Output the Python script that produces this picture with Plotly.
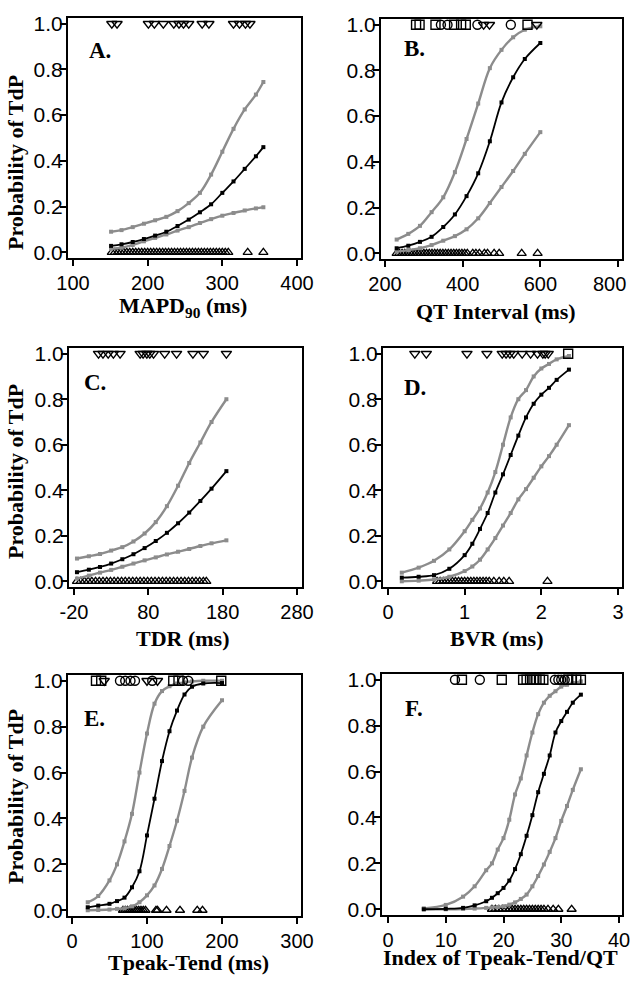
import plotly.graph_objects as go

W, H = 633, 998

# ---------------- DATA ----------------
# Panel A: MAPD90 (ms)
A_grid = [151, 165, 180, 195, 210, 225, 240, 255, 270, 285, 300, 315, 330, 345, 355]
A_est = [0.028, 0.035, 0.045, 0.058, 0.073, 0.09, 0.115, 0.143, 0.175, 0.21, 0.26, 0.31, 0.365, 0.42, 0.46]
A_upper = [0.09, 0.097, 0.11, 0.125, 0.14, 0.155, 0.18, 0.215, 0.26, 0.34, 0.44, 0.54, 0.625, 0.69, 0.745]
A_lower = [0.015, 0.02, 0.032, 0.048, 0.063, 0.078, 0.095, 0.11, 0.128, 0.145, 0.16, 0.172, 0.183, 0.192, 0.197]
A_tdp = [152, 159, 201, 209, 221, 235, 242, 248, 255, 273, 282, 315, 323, 331, 337]
A_notdp = [152, 156, 160, 164, 168, 172, 176, 180, 184, 188, 192, 196, 200, 204, 208, 212, 216, 220, 224,
           228, 232, 236, 240, 244, 248, 252, 256, 260, 264, 268, 272, 276, 280, 284, 288, 292, 296, 300,
           304, 308, 334, 355]

# Panel B: QT interval (ms)
B_grid = [230, 260, 290, 320, 350, 380, 410, 440, 470, 500, 530, 560, 600]
B_est = [0.022, 0.033, 0.05, 0.072, 0.115, 0.17, 0.25, 0.35, 0.49, 0.66, 0.77, 0.85, 0.92]
B_upper = [0.06, 0.085, 0.12, 0.18, 0.245, 0.355, 0.5, 0.655, 0.81, 0.89, 0.945, 0.978, 0.993]
B_lower = [0.007, 0.014, 0.022, 0.036, 0.055, 0.075, 0.105, 0.153, 0.22, 0.29, 0.36, 0.435, 0.53]
B_tdp = [280, 289, 330, 344, 361, 378, 396, 408, 438, 454, 469, 524, 567, 591]
B_notdp = [230, 237, 244, 251, 258, 265, 272, 279, 286, 293, 300, 307, 314, 321, 328, 335, 342, 349, 356,
           363, 370, 377, 384, 391, 398, 405, 412, 426, 434, 443, 456, 464, 481, 494, 552, 593]

# Panel C: TDR (ms)
C_grid = [-16, 0, 15, 30, 45, 60, 75, 90, 105, 120, 135, 150, 165, 185]
C_est = [0.040, 0.051, 0.063, 0.078, 0.097, 0.119, 0.146, 0.177, 0.213, 0.255, 0.302, 0.353, 0.407, 0.484]
C_upper = [0.10, 0.11, 0.12, 0.135, 0.15, 0.175, 0.21, 0.26, 0.33, 0.42, 0.52, 0.61, 0.70, 0.80]
C_lower = [0.012, 0.025, 0.038, 0.05, 0.064, 0.078, 0.092, 0.105, 0.118, 0.13, 0.142, 0.155, 0.167, 0.18]
C_tdp = [13, 19, 26, 33, 42, 69, 73, 78, 82, 87, 102, 118, 140, 154, 185]
C_notdp = [-16, -11, -6, -1, 4, 9, 14, 19, 24, 29, 34, 39, 44, 49, 54, 59, 64, 69, 74, 79, 84, 89, 94,
           99, 104, 109, 114, 119, 124, 129, 134, 139, 144, 149, 154, 158]

# Panel D: BVR (ms)
D_grid = [0.18, 0.4, 0.6, 0.8, 1.0, 1.1, 1.2, 1.3, 1.4, 1.5, 1.6, 1.7, 1.8, 1.9, 2.0, 2.1, 2.2, 2.36]
D_est = [0.016, 0.02, 0.027, 0.055, 0.115, 0.165, 0.23, 0.30, 0.39, 0.47, 0.555, 0.64, 0.72, 0.78, 0.82,
         0.85, 0.885, 0.93]
D_upper = [0.038, 0.06, 0.09, 0.14, 0.22, 0.27, 0.32, 0.39, 0.48, 0.60, 0.72, 0.80, 0.84, 0.90, 0.935,
           0.955, 0.975, 0.99]
D_lower = [0.0, 0.003, 0.008, 0.02, 0.045, 0.065, 0.095, 0.14, 0.19, 0.245, 0.30, 0.36, 0.405, 0.455,
           0.505, 0.55, 0.60, 0.686]
D_tdp = [0.35, 0.50, 1.03, 1.29, 1.49, 1.54, 1.59, 1.64, 1.75, 1.86, 1.95, 2.02, 2.05, 2.09, 2.35]
D_notdp = [0.64, 0.68, 0.72, 0.76, 0.80, 0.84, 0.88, 0.92, 0.96, 1.00, 1.04, 1.08, 1.12, 1.16, 1.20,
           1.24, 1.28, 1.32, 1.38, 1.45, 1.51, 1.58, 2.08]

# Panel E: Tpeak-Tend (ms)
E_grid = [21, 35, 50, 60, 70, 80, 90, 100, 110, 120, 130, 140, 150, 160, 175, 200]
E_est = [0.013, 0.02, 0.028, 0.04, 0.055, 0.10, 0.17, 0.326, 0.486, 0.65, 0.78, 0.87, 0.94, 0.974, 0.988, 0.99]
E_upper = [0.035, 0.062, 0.13, 0.20, 0.30, 0.42, 0.60, 0.77, 0.90, 0.955, 0.976, 0.988, 0.993, 0.997, 1.0, 1.0]
E_lower = [0.0, 0.001, 0.003, 0.006, 0.009, 0.017, 0.035, 0.065, 0.108, 0.18, 0.28, 0.39, 0.52, 0.665, 0.80,
           0.915]
E_tdp = [32, 39, 43, 64, 71, 78, 84, 100, 107, 114, 135, 142, 148, 155, 199]
E_notdp = [68, 71, 74, 77, 80, 83, 86, 89, 92, 95, 98, 112, 114, 126, 144, 167, 174]

# Panel F: Index of Tpeak-Tend/QT
F_grid = [6.2, 10, 13, 15, 17, 18, 19, 20, 21, 22, 23, 24, 25, 26, 27, 28, 29, 30, 31, 32, 33.4]
F_est = [0.0, 0.002, 0.006, 0.017, 0.035, 0.05, 0.07, 0.093, 0.125, 0.175, 0.24, 0.32, 0.41, 0.51, 0.59,
         0.67, 0.77, 0.82, 0.86, 0.90, 0.935]
F_upper = [0.004, 0.019, 0.055, 0.10, 0.17, 0.20, 0.26, 0.31, 0.39, 0.50, 0.57, 0.67, 0.77, 0.85, 0.90,
           0.93, 0.95, 0.97, 0.978, 0.986, 0.993]
F_lower = [0.0, 0.0, 0.001, 0.003, 0.006, 0.008, 0.01, 0.013, 0.02, 0.03, 0.045, 0.064, 0.10, 0.145, 0.195,
           0.25, 0.31, 0.385, 0.45, 0.52, 0.61]
F_tdp = [11.6, 12.8, 15.9, 19.7, 23.4, 24.0, 24.6, 25.2, 25.7, 26.3, 26.9, 28.9, 29.5, 30.0, 30.6, 31.2,
         31.8, 32.6, 33.4]
F_notdp = [18.0, 18.6, 19.2, 19.8, 20.4, 21.0, 21.5, 22.0, 22.5, 23.0, 23.5, 24.0, 24.5, 25.0, 25.5,
           26.0, 26.5, 27.0, 27.7, 28.6, 29.5, 31.8]

Y_TICKS = [0.0, 0.2, 0.4, 0.6, 0.8, 1.0]
Y_TICK_LABELS = ["0.0", "0.2", "0.4", "0.6", "0.8", "1.0"]
X_TICKS = {
    "A": [100, 200, 300, 400],
    "B": [200, 400, 600, 800],
    "C": [-20, 80, 180, 280],
    "D": [0, 1, 2, 3],
    "E": [0, 100, 200, 300],
    "F": [0, 10, 20, 30, 40],
}
X_TICK_LABELS = {
    "A": ["100", "200", "300", "400"],
    "B": ["200", "400", "600", "800"],
    "C": ["-20", "80", "180", "280"],
    "D": ["0", "1", "2", "3"],
    "E": ["0", "100", "200", "300"],
    "F": ["0", "10", "20", "30", "40"],
}
X_TITLES = {
    "A": "MAPD<sub>90</sub> (ms)",
    "B": "QT Interval (ms)",
    "C": "TDR (ms)",
    "D": "BVR (ms)",
    "E": "Tpeak-Tend (ms)",
    "F": "Index of Tpeak-Tend/QT",
}
Y_TITLE = "Probability of TdP"

# ---------------- STYLE / LAYOUT ----------------
panels = {
    "A": dict(grid=A_grid, est=A_est, up=A_upper, lo=A_lower, tdp=A_tdp, no=A_notdp),
    "B": dict(grid=B_grid, est=B_est, up=B_upper, lo=B_lower, tdp=B_tdp, no=B_notdp),
    "C": dict(grid=C_grid, est=C_est, up=C_upper, lo=C_lower, tdp=C_tdp, no=C_notdp),
    "D": dict(grid=D_grid, est=D_est, up=D_upper, lo=D_lower, tdp=D_tdp, no=D_notdp),
    "E": dict(grid=E_grid, est=E_est, up=E_upper, lo=E_lower, tdp=E_tdp, no=E_notdp),
    "F": dict(grid=F_grid, est=F_est, up=F_upper, lo=F_lower, tdp=F_tdp, no=F_notdp),
}
# pixel boxes (left, right, top, bottom)
boxes = {
    "A": (68, 301, 18, 258),
    "B": (381, 622, 19, 259),
    "C": (69, 302, 348, 587),
    "D": (383, 622, 348, 587),
    "E": (68, 301, 675, 916),
    "F": (382, 622, 674, 915),
}
xranges = {
    "A": [93.3, 405.4],
    "B": [189.7, 810.3],
    "C": [-26.7, 286.7],
    "D": [-0.065, 3.052],
    "E": [-5.3, 305.3],
    "F": [-1.04, 40.52],
}
top_symbols = {
    "A": "triangle-down-open",
    "B": ["square-open", "square-open", "square-open", "circle-open", "circle-open", "square-open",
          "square-open", "square-open", "circle-open", "triangle-down-open", "triangle-down-open",
          "circle-open", "square-open", "triangle-down-open"],
    "C": "triangle-down-open",
    "D": ["triangle-down-open"] * 14 + ["square-open"],
    "E": ["square-open", "square-open", "triangle-down-open"] + ["circle-open"] * 4 +
         ["triangle-down-open", "circle-open", "triangle-down-open"] +
         ["square-open", "square-open", "circle-open", "circle-open", "square-open"],
    "F": ["circle-open", "square-open", "circle-open", "square-open"] + ["square-open"] * 7 +
         ["circle-open"] * 4 + ["square-open"] * 4,
}
# title/label pixel positions
xtitle_pos = {"A": (183, 307), "B": (496, 311), "C": (183, 638), "D": (497, 638), "E": (189, 962), "F": (500, 957)}
letter_pos = {"A": (87, 50), "B": (402, 48), "C": (82, 382), "D": (402, 388), "E": (82, 718), "F": (403, 708)}
ytitle_pos = {"A": (15, 163), "C": (15, 472), "E": (15, 797)}

GRAY = "#8c8c8c"
SERIF = "Liberation Serif, Times New Roman, serif"
SANS = "Liberation Sans, Arial, sans-serif"
NBSP = "\u00a0"


def px(x):
    return x / W


def py(y):
    return 1 - y / H


fig = go.Figure()
layout = dict(
    width=W, height=H,
    margin=dict(l=0, r=0, t=0, b=0),
    paper_bgcolor="white", plot_bgcolor="white",
    showlegend=False,
    template="none",
)
annotations = []

for i, key in enumerate(["A", "B", "C", "D", "E", "F"]):
    n = "" if i == 0 else str(i + 1)
    xa, ya = "x" + n, "y" + n
    p = panels[key]
    l, r, t, b = boxes[key]

    # non-TdP observations at 0
    fig.add_trace(go.Scatter(
        x=p["no"], y=[0] * len(p["no"]), mode="markers", xaxis=xa, yaxis=ya,
        marker=dict(symbol="triangle-up-open", size=8, color="black", line=dict(width=1.3, color="black")),
        cliponaxis=False))
    # CI curves
    for arr in (p["lo"], p["up"]):
        fig.add_trace(go.Scatter(
            x=p["grid"], y=arr, mode="lines+markers", xaxis=xa, yaxis=ya,
            line=dict(color=GRAY, width=2.4, shape="spline"),
            marker=dict(symbol="square", size=4, color=GRAY)))
    fig.add_trace(go.Scatter(
        x=p["grid"], y=p["est"], mode="lines+markers", xaxis=xa, yaxis=ya,
        line=dict(color="black", width=1.8, shape="spline"),
        marker=dict(symbol="square", size=4, color="black")))
    # TdP observations at 1
    fig.add_trace(go.Scatter(
        x=p["tdp"], y=[1] * len(p["tdp"]), mode="markers", xaxis=xa, yaxis=ya,
        marker=dict(symbol=top_symbols[key], size=9, color="black", line=dict(width=1.4, color="black")),
        cliponaxis=False))

    axis_common = dict(
        showline=True, linecolor="black", linewidth=2, mirror=True,
        ticks="outside", ticklen=6, tickwidth=1.5, tickcolor="black",
        showgrid=False, zeroline=False, automargin=False, ticklabeloverflow="allow",
    )
    xt = list(X_TICK_LABELS[key])
    if key == "B":
        xt[-1] = xt[-1] + NBSP * 3  # keep the last label inside the page as in the original
    layout["xaxis" + n] = dict(
        axis_common, domain=[px(l), px(r)], range=xranges[key], anchor=ya,
        tickvals=X_TICKS[key], ticktext=xt,
        tickfont=dict(family=SANS, size=20, color="black"),
    )
    layout["yaxis" + n] = dict(
        axis_common, domain=[py(b), py(t)], range=[-0.025, 1.025], anchor=xa,
        tickvals=Y_TICKS, ticktext=Y_TICK_LABELS, ticklabelstandoff=-7,
        tickfont=dict(family=SANS, size=21, color="black"),
    )

    cx, cy = xtitle_pos[key]
    annotations.append(dict(
        text="<b>" + X_TITLES[key] + "</b>", x=px(cx), y=py(cy), xref="paper", yref="paper",
        showarrow=False, xanchor="center", yanchor="middle",
        font=dict(family=SERIF, size=22, color="black")))
    lx, ly = letter_pos[key]
    annotations.append(dict(
        text="<b>" + key + ".</b>", x=px(lx), y=py(ly), xref="paper", yref="paper",
        showarrow=False, xanchor="left", yanchor="middle",
        font=dict(family=SERIF, size=23, color="black")))
    if key in ytitle_pos:
        tx, ty = ytitle_pos[key]
        annotations.append(dict(
            text="<b>" + Y_TITLE + "</b>", x=px(tx), y=py(ty), xref="paper", yref="paper",
            showarrow=False, xanchor="center", yanchor="middle", textangle=-90,
            font=dict(family=SERIF, size=22, color="black")))

layout["annotations"] = annotations
fig.update_layout(**layout)
fig.write_html(
    "out.html",
    config={"displayModeBar": False},
    post_script="document.body.style.margin='0px';document.body.style.overflow='hidden';",
)
